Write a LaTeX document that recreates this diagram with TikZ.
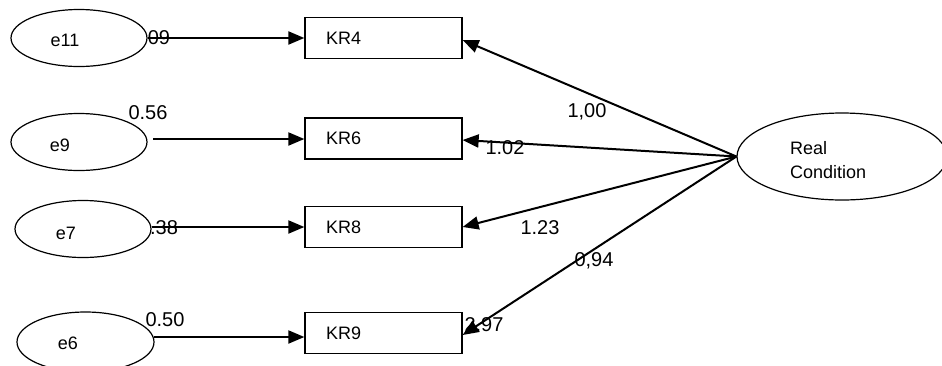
\documentclass[tikz,border=0pt]{standalone}
\usepackage{fontspec}
\setmainfont{Liberation Sans}
\usetikzlibrary{shapes.geometric,arrows.meta}
\begin{document}
\begin{tikzpicture}[x=1pt,y=-1pt,
  errell/.style={ellipse,draw,line width=1.2pt,inner sep=0pt,minimum width=136pt,minimum height=57pt},
  itembox/.style={rectangle,draw,line width=1.3pt,minimum width=157pt,minimum height=41pt,inner xsep=21pt,text width=115pt,align=left,font=\fontsize{18}{20}\selectfont},
  nodetxt/.style={font=\fontsize{18}{20}\selectfont,inner sep=0pt},
  coef/.style={font=\fontsize{20}{22}\selectfont,inner sep=0pt},
  arr/.style={line width=2pt,-{Triangle[length=16pt,width=13pt]}}]
\useasboundingbox (0,0) rectangle (942,365);
% labels (drawn first)
\node[coef] (l09) at (159,38) {09};
\node[coef] (l56) at (148,113) {0.56};
\node[coef] (l38) at (164,228) {.38};
\node[coef] (l50) at (165,320) {0.50};
\node[coef] (l100) at (587,112) {1,00};
\node[coef] (l102) at (505,148) {1.02};
\node[coef] (l123) at (540,228) {1.23};
\node[coef] (l094) at (594,261) {0,94};
\node[coef] (l297) at (484,325) {2.97};
% error ellipses
\node[errell] (e11) at (79,38) {};
\node[errell] (e9) at (79,142) {};
\node[errell] (e7) at (83,229) {};
\node[errell,minimum width=137pt,minimum height=60pt] (e6) at (85.5,342) {};
\node[nodetxt] (t11) at (65,40) {e11};
\node[nodetxt] (t9) at (60,145) {e9};
\node[nodetxt] (t7) at (66,233) {e7};
\node[nodetxt] (t6) at (68,343) {e6};
% indicator boxes
\node[itembox] (kr4) at (383.5,38) {KR4};
\node[itembox] (kr6) at (383.5,138.5) {KR6};
\node[itembox] (kr8) at (383.5,227) {KR8};
\node[itembox] (kr9) at (383.5,333) {KR9};
% latent
\node[ellipse,draw,line width=1.2pt,inner sep=0pt,minimum width=210pt,minimum height=87pt] (rc) at (842,156.5) {};
\node[nodetxt,anchor=west] (rct1) at (790,148) {Real};
\node[nodetxt,anchor=west] (rct2) at (790,172) {Condition};
% error arrows
\draw[arr] (e11.east) -- (kr4.west);
\coordinate (s9) at (153,139);
\draw[arr] (s9) -- (s9 -| kr6.west);
\draw[arr] (e7.east |- kr8.west) -- (kr8.west);
\coordinate (s6) at (154,337);
\draw[arr] (s6) -- (s6 -| kr9.west);
% loadings
\draw[arr] (rc.west) -- ([yshift=-2pt]kr4.east);
\draw[arr] (rc.west) -- ([yshift=-1.5pt]kr6.east);
\draw[arr] (rc.west) -- (kr8.east);
\draw[arr] (rc.west) -- ([yshift=-2pt]kr9.east);
\end{tikzpicture}
\end{document}
